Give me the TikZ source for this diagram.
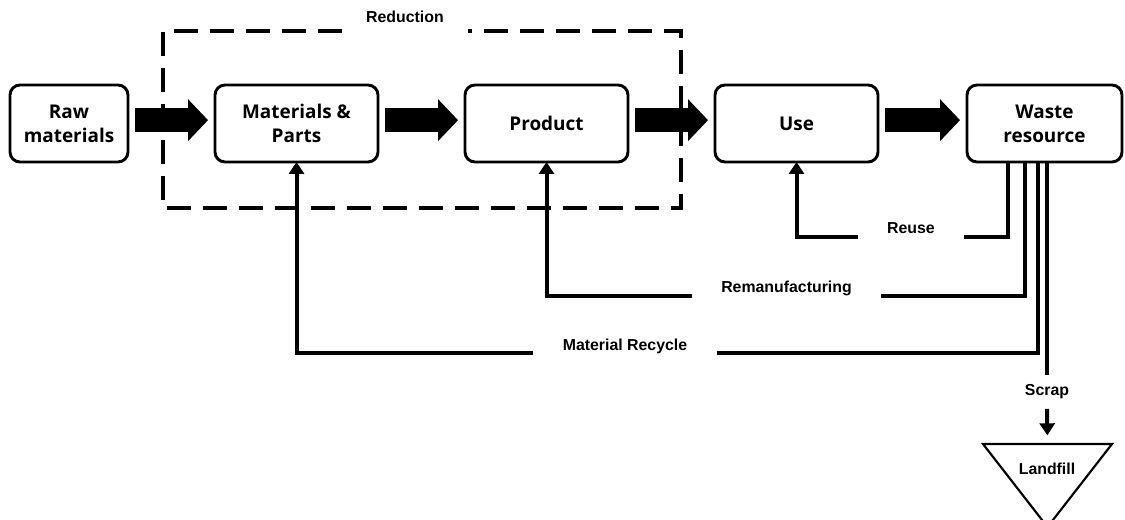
\documentclass[tikz,border=0pt]{standalone}
\usepackage{fontspec}
\setmainfont{Liberation Sans}
\newfontfamily\boxfont{Open Sans}
\usepackage{tikz}
\usetikzlibrary{arrows.meta, positioning}

\begin{document}
\begin{tikzpicture}[
  x=0.75pt, y=-0.75pt,
  stage/.style={rectangle, draw, line width=2.2pt, rounded corners=7.5pt,
    minimum width=#1, minimum height=57.75pt, outer sep=0pt, align=center,
    font=\boxfont\bfseries\fontsize{14.2}{18}\selectfont},
  stage/.default=122.25pt,
  flow/.style={line width=18pt, -{Triangle[length=15pt, width=31.5pt, line width=0pt]}},
  back/.style={line width=3pt},
  backarrow/.style={back, -{Triangle[length=9pt, width=11.25pt]}},
  tag/.style={font=\bfseries\fontsize{11.9}{14}\selectfont, inner xsep=22pt, inner ysep=2pt, anchor=base},
  node distance=65.25pt,
]
  \useasboundingbox (0,0) rectangle (1125,520);

  \node[stage=88.5pt] (raw) at (69,123.5) {Raw\\materials};
  \node[stage, right=of raw] (parts) {Materials \&\\Parts};
  \node[stage, right=of parts] (product) {Product};
  \node[stage, right=of product] (use) {Use};
  \node[stage=116.25pt, right=66.75pt of use] (waste) {Waste\\resource};

  \foreach \a/\b in {raw/parts, parts/product, product/use, use/waste}
    \draw[flow] ([xshift=5.25pt, yshift=2.5pt]\a.east) -- ([xshift=-5.25pt, yshift=2.5pt]\b.west);

  % Reduction
  \node[tag, inner xsep=2pt] (reduction) at (405,23) {Reduction};
  \draw[line width=2.4pt, dash pattern=on 18pt off 9pt] (342,31) -| (163,208) -| (681,31) -- (468,31);

  % loops back from waste
  \node[tag] (reuse) at (911,234) {Reuse};
  \node[tag] (reman) at (786.5,293) {Remanufacturing};
  \node[tag] (recycle) at (625,350) {Material Recycle};

  \draw[back] (1008,0 |- waste.south) |- (reuse.east |- 0,237);
  \draw[backarrow] (reuse.west |- 0,237) -| (use.south);
  \draw[back] (1025,0 |- waste.south) |- (reman.east |- 0,296);
  \draw[backarrow] (reman.west |- 0,296) -| (product.south);
  \draw[back] (1038,0 |- waste.south) |- (recycle.east |- 0,353);
  \draw[backarrow] (recycle.west |- 0,353) -| (parts.south);

  % Scrap
  \node[tag, inner xsep=2pt, inner ysep=7pt, anchor=center] (scrap) at (1047,392) {Scrap};
  \coordinate (pit) at (1047.5,444);
  \draw[back] (1047,0 |- waste.south) -- (scrap.north);
  \draw[backarrow, shorten >=6.5pt] (scrap.south) -- (pit);
  \draw[line width=1.6pt, line join=miter] (983,444) -- (1112,444) -- (1047.5,527) -- cycle;
  \node[tag, inner xsep=2pt] (landfill) at (1047,474) {Landfill};
\end{tikzpicture}
\end{document}
